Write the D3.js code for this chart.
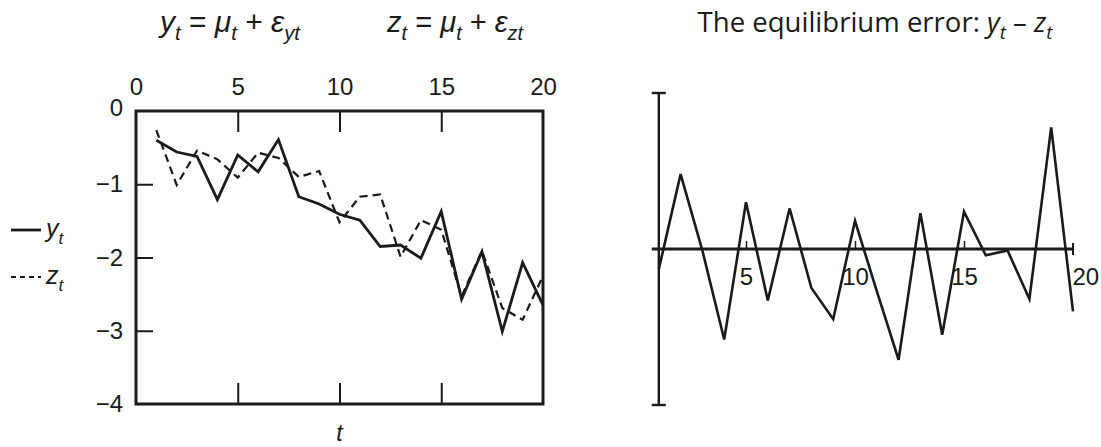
<!DOCTYPE html>
<html><head><meta charset="utf-8">
<script src="https://cdn.jsdelivr.net/npm/d3@7"></script>
<style>
html,body{margin:0;padding:0;background:#fff;}
svg text{font-family:"Liberation Sans",Arial,sans-serif;fill:#1a1a1a;}
</style></head>
<body><svg id="c" width="1101" height="447"></svg>
<script>
// ---- data ----
const t = [1,2,3,4,5,6,7,8,9,10,11,12,13,14,15,16,17,18,19,20];
const ySeries = [-0.40,-0.56,-0.62,-1.21,-0.60,-0.83,-0.39,-1.17,-1.27,-1.41,-1.49,-1.85,-1.83,-2.01,-1.37,-2.57,-1.92,-3.01,-2.07,-2.65];
const zSeries = [-0.26,-1.01,-0.54,-0.66,-0.91,-0.57,-0.64,-0.90,-0.82,-1.52,-1.17,-1.14,-1.99,-1.49,-1.62,-2.53,-1.91,-2.69,-2.85,-2.25];
const errSeries = [-0.13,0.48,-0.01,-0.58,0.30,-0.33,0.26,-0.25,-0.45,0.18,-0.27,-0.71,0.23,-0.55,0.24,-0.04,-0.01,-0.32,0.78,-0.40];
const xTicksTop = [0,5,10,15,20];
const xTicksInner = [5,10,15];
const yTicksLeft = [0,-1,-2,-3,-4];
const xTicksRight = [5,10,15,20];

const svg = d3.select("#c");
const ink = "#1a1a1a";
const fmt = d3.format("d");
const tickFont = "24px";

// ---- left panel ----
const xL = d3.scaleLinear().domain([0,20]).range([136,543]);
const yL = d3.scaleLinear().domain([-4,0]).range([404,111]);

const gTop = svg.append("g").attr("transform",`translate(0,${yL(0)})`)
  .call(d3.axisTop(xL).tickValues(xTicksTop).tickFormat(fmt).tickSizeInner(0).tickSizeOuter(0).tickPadding(16));
const gBot = svg.append("g").attr("transform",`translate(0,${yL(-4)})`)
  .call(d3.axisBottom(xL).tickValues(xTicksInner).tickSizeInner(-21).tickSizeOuter(0).tickFormat(""));
const gTopT = svg.append("g").attr("transform",`translate(0,${yL(0)})`)
  .call(d3.axisTop(xL).tickValues(xTicksInner).tickSizeInner(-21).tickSizeOuter(0).tickFormat(""));
const gLeft = svg.append("g").attr("transform",`translate(${xL(0)},0)`)
  .call(d3.axisLeft(yL).tickValues(yTicksLeft).tickFormat(fmt).tickSizeInner(-17).tickSizeOuter(0).tickPadding(13));
[gTop,gBot,gTopT,gLeft].forEach(g=>{
  g.select(".domain").remove();
  g.selectAll("line").attr("stroke",ink).attr("stroke-width",2);
  g.selectAll("text").style("font-size",tickFont).attr("fill",ink);
});
gLeft.selectAll(".tick").filter(d=>d===0||d===-4).select("line").remove();
gLeft.selectAll(".tick").filter(d=>d===0).select("text").attr("dy","0.2em");

svg.append("rect").attr("x",xL(0)).attr("y",yL(0))
  .attr("width",xL(20)-xL(0)).attr("height",yL(-4)-yL(0))
  .attr("fill","none").attr("stroke",ink).attr("stroke-width",3);

const lineL = (arr)=>d3.line().x((d,i)=>xL(t[i])).y(d=>yL(d))(arr);
svg.append("path").attr("d",lineL(zSeries)).attr("fill","none")
  .attr("stroke",ink).attr("stroke-width",2.2).attr("stroke-dasharray","8,5");
svg.append("path").attr("d",lineL(ySeries)).attr("fill","none")
  .attr("stroke",ink).attr("stroke-width",2.8).attr("stroke-linejoin","miter");

svg.append("text").attr("x",xL(10)).attr("y",441).attr("text-anchor","middle")
  .style("font-size","23px").style("font-style","italic").text("t");

// legend
svg.append("line").attr("x1",11).attr("x2",41).attr("y1",230).attr("y2",230)
  .attr("stroke",ink).attr("stroke-width",2.8);
svg.append("line").attr("x1",11).attr("x2",41).attr("y1",277).attr("y2",277)
  .attr("stroke",ink).attr("stroke-width",2).attr("stroke-dasharray","5,4");
function mathLabel(x,y,main,sub){
  const tx = svg.append("text").attr("x",x).attr("y",y).style("font-size","25px");
  tx.append("tspan").style("font-style","italic").text(main);
  tx.append("tspan").attr("dy",7).style("font-style","italic").style("font-size","17px").text(sub);
  return tx;
}
mathLabel(46,237,"y","t");
mathLabel(46,284,"z","t");

// titles, fitted to the reference's widths
function title(cx,y,width,parts,family){
  const tx = svg.append("text").attr("x",cx).attr("y",y).attr("text-anchor","middle");
  if(family) tx.style("font-family",family);
  let sub=false;
  parts.forEach(p=>{
    const s = tx.append("tspan").text(p.s).classed("sub",!!p.sub);
    if(p.i) s.style("font-style","italic");
    if(p.sub && !sub){ s.classed("shift",true); sub=true; }
    else if(!p.sub && sub){ s.classed("back",true); sub=false; }
  });
  const apply = (fs)=>{
    tx.style("font-size",fs+"px");
    tx.selectAll("tspan.sub").style("font-size",(fs*0.68)+"px");
    tx.selectAll("tspan.shift").attr("dy",fs*0.27);
    tx.selectAll("tspan.back").attr("dy",-fs*0.27);
  };
  apply(22);
  const w = tx.node().getComputedTextLength();
  apply(22*width/w);
  return tx;
}
title(230,32,140,[{s:"y",i:1},{s:"t",i:1,sub:1},{s:" = "},{s:"μ",i:1},{s:"t",i:1,sub:1},{s:" + "},{s:"ε",i:1},{s:"yt",i:1,sub:1}]);
title(455,32,136,[{s:"z",i:1},{s:"t",i:1,sub:1},{s:" = "},{s:"μ",i:1},{s:"t",i:1,sub:1},{s:" + "},{s:"ε",i:1},{s:"zt",i:1,sub:1}]);
title(875,32,355,[{s:"The equilibrium error: "},{s:"y",i:1},{s:"t",i:1,sub:1},{s:" – "},{s:"z",i:1},{s:"t",i:1,sub:1}],"'Open Sans','Liberation Sans',sans-serif");

// ---- right panel ----
const xR = d3.scaleLinear().domain([0,20]).range([637,1073]);
const yR = d3.scaleLinear().domain([-1,1]).range([405,93]);

svg.append("line").attr("x1",xR(1)).attr("x2",xR(1)).attr("y1",yR(1)).attr("y2",yR(-1))
  .attr("stroke",ink).attr("stroke-width",2.4);
[1,-1].forEach(v=>svg.append("line").attr("x1",xR(1)-7).attr("x2",xR(1)+7)
  .attr("y1",yR(v)).attr("y2",yR(v)).attr("stroke",ink).attr("stroke-width",2.4));

svg.append("line").attr("x1",xR(1)-7).attr("x2",xR(20)).attr("y1",yR(0)).attr("y2",yR(0))
  .attr("stroke",ink).attr("stroke-width",2.8);
svg.append("line").attr("x1",xR(20)).attr("x2",xR(20)).attr("y1",yR(0)-6).attr("y2",yR(0)+6)
  .attr("stroke",ink).attr("stroke-width",2);
const gR = svg.append("g").attr("transform",`translate(0,${yR(0)})`)
  .call(d3.axisBottom(xR).tickValues(xTicksRight).tickFormat(fmt).tickSizeInner(-8).tickSizeOuter(0).tickPadding(19));
gR.select(".domain").remove();
gR.selectAll("line").attr("stroke",ink).attr("stroke-width",1.5);
gR.selectAll(".tick").filter(d=>d===20).select("line").remove();
gR.selectAll("text").style("font-size",tickFont).attr("fill",ink);
gR.selectAll(".tick").filter(d=>d===20).select("text").attr("text-anchor","start").attr("dx",-1);

const lineR = d3.line().x((d,i)=>xR(t[i])).y(d=>yR(d));
svg.append("path").attr("d",lineR(errSeries)).attr("fill","none")
  .attr("stroke",ink).attr("stroke-width",2.6).attr("stroke-linejoin","miter");
</script></body></html>
